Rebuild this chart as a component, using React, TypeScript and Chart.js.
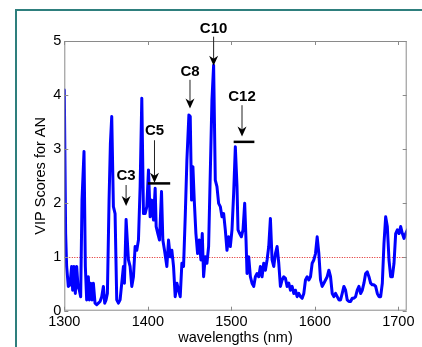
import React, { useEffect, useRef } from "react";
import { Chart, registerables } from "chart.js";

Chart.register(...registerables);

const wavelengths = [
  1300, 1301.6, 1302.8, 1304.8, 1306.8, 1308.8, 1310, 1311.6, 1313.2, 1314.8, 1316.4, 1318, 1319.6,
  1321.2, 1323.6, 1325.2, 1326.8, 1328.8, 1330, 1331.6, 1333.2, 1334.8, 1336.8, 1338.8, 1340.8,
  1342.8, 1344.8, 1346.8, 1348.4, 1350, 1351.6, 1353.6, 1355.2, 1356.8, 1358.8, 1360.8, 1362.8,
  1364.8, 1366.8, 1368.8, 1370.8, 1372, 1374, 1376.8, 1378.8, 1380.8, 1382.8, 1384.8, 1386.8,
  1388.8, 1390.8, 1392.8, 1394.8, 1396.8, 1398.8, 1400.8, 1402.8, 1404.8, 1406.8, 1408.8, 1410,
  1412, 1414, 1416.4, 1418, 1420, 1422.8, 1424.8, 1426.8, 1428.8, 1430.8, 1432.8, 1434.8, 1436.8,
  1438.8, 1440.8, 1442.8, 1444.8, 1446.8, 1449.2, 1450.8, 1452.4, 1454, 1455.6, 1457.6, 1459.6,
  1461.6, 1463.6, 1465.2, 1466.8, 1468.8, 1470.8, 1472.8, 1474.8, 1476.8, 1478.8, 1480.8, 1482.8,
  1484.8, 1486.8, 1488.8, 1490.8, 1492.8, 1494.8, 1496.8, 1498.8, 1500.8, 1502.8, 1504.8, 1506.8,
  1508, 1510, 1512, 1514, 1516, 1517.6, 1518.8, 1520.8, 1522.8, 1524.8, 1526.8, 1528.8, 1530.8,
  1532.8, 1534.8, 1536.8, 1538.8, 1540.8, 1542.8, 1544.8, 1546.8, 1548.8, 1550.8, 1552.8, 1554.8,
  1556.8, 1558.8, 1560.8, 1562.8, 1564.8, 1566.8, 1568.8, 1570.8, 1572.8, 1574.8, 1576.8, 1578.8,
  1580.8, 1582.8, 1584.8, 1586.8, 1588.8, 1590.8, 1592.8, 1594.8, 1596.8, 1598.8, 1600.8, 1602.8,
  1604.8, 1606.8, 1608.8, 1610.8, 1612.8, 1614.8, 1616.8, 1618.8, 1620.8, 1622.8, 1624.8, 1626.8,
  1628.8, 1630.8, 1632.8, 1634.8, 1636.8, 1638.8, 1640.8, 1642.8, 1644.8, 1646.8, 1648.8, 1650.8,
  1652.8, 1654.8, 1656.8, 1658.8, 1660.8, 1662.8, 1664.8, 1666.8, 1668.8, 1670.8, 1672.8, 1674.8,
  1676.8, 1678.8, 1680.8, 1682.8, 1684.8, 1686.8, 1688.8, 1690.8, 1692.8, 1694.8, 1696.8, 1698.8,
  1700.8, 1702.8, 1704.8, 1706.8, 1708.8, 1710.8,
];

const vipScores = [
  4.09, 1.43, 0.82, 0.45, 0.48, 0.82, 0.38, 0.82, 0.32, 0.82, 0.45, 0.38, 0.26,
  2.05, 2.95, 0.82, 0.2, 0.63, 0.2, 0.51, 0.2, 0.51, 0.14, 0.11, 0.14,
  0.17, 0.26, 0.45, 0.14, 0.2, 0.32, 2.05, 3.1, 3.6, 1.93, 1.8, 0.2,
  0.14, 0.2, 0.51, 0.82, 0.51, 1.69, 0.94, 0.82, 0.45, 0.63, 1.19, 1.12,
  1.31, 2.3, 3.94, 1.8, 1.8, 1.93, 2.61, 1.74, 2.05, 1.68, 2.27, 1.56,
  1.43, 1.31, 2.21, 1.31, 1.12, 0.82, 1.31, 1.0, 1.12, 0.82, 0.26, 0.51, 0.38,
  0.26, 0.88, 0.82, 1.74, 2.79, 3.63, 3.6, 2.05, 2.67, 2.05, 1.43, 1.06,
  1.31, 0.94, 1.43, 0.63, 1.0, 0.88, 1.19, 2.55, 3.91, 4.55, 2.42, 2.3,
  1.99, 1.93, 1.74, 1.8, 1.5, 1.12, 1.37, 1.19, 1.5, 2.18, 3.04, 2.3,
  1.5, 1.43, 1.37, 1.5, 1.99, 1.31, 0.69, 1.0, 0.63, 0.51, 0.45, 0.63, 0.69,
  0.63, 0.82, 0.63, 0.88, 0.75, 0.94, 1.19, 1.71, 0.94, 0.82, 1.06, 1.19,
  0.88, 0.45, 0.57, 0.63, 0.6, 0.45, 0.51, 0.38, 0.45, 0.32, 0.38, 0.26,
  0.32, 0.26, 0.23, 0.32, 0.57, 0.63, 0.57, 0.63, 0.88, 0.94, 1.06, 1.37,
  1.06, 0.57, 0.45, 0.51, 0.57, 0.63, 0.75, 0.63, 0.32, 0.26, 0.32, 0.26,
  0.2, 0.2, 0.32, 0.45, 0.38, 0.2, 0.17, 0.17, 0.23, 0.23, 0.26, 0.38,
  0.45, 0.32, 0.38, 0.51, 0.69, 0.72, 0.63, 0.51, 0.48, 0.48, 0.45, 0.32,
  0.26, 0.26, 0.51, 1.25, 1.74, 1.56, 0.94, 0.63, 0.63, 0.88, 1.43, 1.5,
  1.43, 1.56, 1.43, 1.34, 1.43, 1.5,
];

const xTicks = [1300, 1400, 1500, 1600, 1700];
const yTicks = [0, 1, 2, 3, 4, 5];
const thresholdValue = 1;

const annotationLabels = ["C3", "C5", "C8", "C10", "C12"];
const annotationX = [1374, 1408, 1450.5, 1478.8, 1512.8];
const annotationLabelY = [2.5, 3.33, 4.43, 5.22, 3.97];
const arrowTailY = [2.33, 3.16, 4.28, 5.08, 3.81];
const arrowTipY = [1.94, 2.37, 3.75, 4.54, 3.23];
const barStartX = [null, 1400, null, null, 1502.8];
const barEndX = [null, 1426.8, null, null, 1527.6];
const barY = [null, 2.36, null, null, 3.13];

const FONT = "'Liberation Sans', Arial, sans-serif";

const overlayPlugin = {
  id: "overlay",
  beforeDatasetsDraw(chart: any) {
    const { ctx, chartArea: a, scales } = chart;
    const y = scales.y;
    ctx.save();
    ctx.strokeStyle = "#e02020";
    ctx.lineWidth = 1;
    ctx.setLineDash([1, 1.5]);
    const py = Math.round(y.getPixelForValue(thresholdValue)) + 0.5;
    ctx.beginPath();
    ctx.moveTo(a.left, py);
    ctx.lineTo(a.right, py);
    ctx.stroke();
    ctx.restore();
  },
  afterDatasetsDraw(chart: any) {
    const { ctx, chartArea: a, scales } = chart;
    const x = scales.x;
    const y = scales.y;
    ctx.save();
    // frame
    ctx.strokeStyle = "#8a8a8a";
    ctx.lineWidth = 1;
    ctx.strokeRect(a.left + 0.5, a.top + 0.5, a.right - a.left - 1, a.bottom - a.top - 1);
    // inward ticks
    const tl = 4;
    ctx.beginPath();
    xTicks.forEach((v) => {
      const px = Math.round(x.getPixelForValue(v)) + 0.5;
      ctx.moveTo(px, a.bottom);
      ctx.lineTo(px, a.bottom - tl);
      ctx.moveTo(px, a.top);
      ctx.lineTo(px, a.top + tl);
    });
    yTicks.forEach((v) => {
      const py = Math.round(y.getPixelForValue(v)) + 0.5;
      ctx.moveTo(a.left, py);
      ctx.lineTo(a.left + tl, py);
      ctx.moveTo(a.right, py);
      ctx.lineTo(a.right - tl, py);
    });
    ctx.stroke();

    // annotations
    annotationLabels.forEach((label, i) => {
      const px = x.getPixelForValue(annotationX[i]);
      const ly = y.getPixelForValue(annotationLabelY[i]);
      const ty = y.getPixelForValue(arrowTailY[i]);
      const hy = y.getPixelForValue(arrowTipY[i]);
      ctx.fillStyle = "#000";
      ctx.font = `bold 15px ${FONT}`;
      ctx.textAlign = "center";
      ctx.textBaseline = "middle";
      ctx.fillText(label, px, ly);
      // shaft
      ctx.strokeStyle = "#222";
      ctx.lineWidth = 1;
      ctx.beginPath();
      ctx.moveTo(px, ty);
      ctx.lineTo(px, hy - 6);
      ctx.stroke();
      // head
      ctx.beginPath();
      ctx.moveTo(px, hy);
      ctx.lineTo(px - 4.5, hy - 10);
      ctx.lineTo(px, hy - 7);
      ctx.lineTo(px + 4.5, hy - 10);
      ctx.closePath();
      ctx.fill();
      const bs = barStartX[i];
      const be = barEndX[i];
      const by = barY[i];
      if (bs !== null && be !== null && by !== null) {
        ctx.strokeStyle = "#000";
        ctx.lineWidth = 2.5;
        ctx.beginPath();
        const byPx = y.getPixelForValue(by);
        ctx.moveTo(x.getPixelForValue(bs), byPx);
        ctx.lineTo(x.getPixelForValue(be), byPx);
        ctx.stroke();
      }
    });
    ctx.restore();
  },
};

export default function App() {
  const canvasRef = useRef<HTMLCanvasElement | null>(null);

  useEffect(() => {
    const canvas = canvasRef.current;
    if (!canvas) return;
    const points = wavelengths.map((w, i) => ({ x: w, y: vipScores[i] }));
    const chart = new Chart(canvas, {
      type: "line",
      data: {
        datasets: [
          {
            data: points,
            borderColor: "#0000ff",
            borderWidth: 3,
            borderJoinStyle: "round",
            borderCapStyle: "round",
            pointRadius: 0,
            tension: 0,
            fill: false,
          },
        ],
      },
      options: {
        animation: false,
        responsive: false,
        devicePixelRatio: 1,
        layout: { padding: { top: 41, right: 15.3, left: 0, bottom: 0 } },
        plugins: { legend: { display: false }, tooltip: { enabled: false } },
        scales: {
          x: {
            type: "linear",
            min: 1300,
            max: 1710,
            afterBuildTicks: (scale: any) => {
              scale.ticks = xTicks.map((v) => ({ value: v }));
            },
            afterFit: (scale: any) => {
              scale.height = 36.3;
            },
            grid: { display: false, drawTicks: false },
            border: { display: false },
            ticks: {
              padding: 3,
              color: "#000",
              font: { family: FONT, size: 14.5 },
              maxRotation: 0,
              autoSkip: false,
              callback: (v: any) => String(v),
            },
            title: {
              display: true,
              text: "wavelengths (nm)",
              color: "#000",
              font: { family: FONT, size: 14.5 },
              padding: { top: 0, bottom: 0 },
            },
          },
          y: {
            type: "linear",
            min: 0,
            max: 5,
            afterBuildTicks: (scale: any) => {
              scale.ticks = yTicks.map((v) => ({ value: v }));
            },
            afterFit: (scale: any) => {
              scale.width = 64.3;
            },
            grid: { display: false, drawTicks: false },
            border: { display: false },
            ticks: {
              padding: 3,
              color: "#000",
              font: { family: FONT, size: 14.5 },
              callback: (v: any) => String(v),
            },
            title: {
              display: true,
              text: "VIP Scores for AN",
              color: "#000",
              font: { family: FONT, size: 14.5 },
              padding: { top: 32, bottom: 0 },
            },
          },
        },
      },
      plugins: [overlayPlugin],
    } as any);
    return () => chart.destroy();
  }, []);

  return (
    <div
      style={{
        position: "absolute",
        left: 0,
        top: 0,
        width: 422,
        height: 347,
        overflow: "hidden",
        background: "#fff",
      }}
    >
      <div
        style={{
          position: "absolute",
          left: 15,
          top: 9,
          width: 600,
          height: 600,
          borderLeft: "2.5px solid #2e7f7d",
          borderTop: "2.5px solid #2e7f7d",
        }}
      />
      <canvas
        ref={canvasRef}
        width={422}
        height={347}
        style={{ position: "absolute", left: 0, top: 0 }}
      />
    </div>
  );
}
